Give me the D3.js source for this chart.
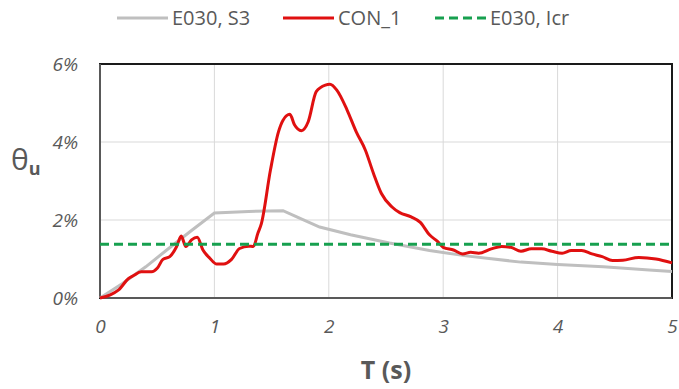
<!DOCTYPE html>
<html>
<head>
<meta charset="utf-8">
<script src="https://cdn.jsdelivr.net/npm/d3@7"></script>
<style>
  body { margin: 0; background: #fff; }
  svg { display: block; font-family: "Open Sans", "Noto Sans", sans-serif; }
</style>
</head>
<body>
<script>
// data (T in s, drift in %)
const seriesNames = ["E030, S3", "CON_1", "E030, Icr"];
const xTicks = [0, 1, 2, 3, 4, 5];
const yTicks = [0, 2, 4, 6];

const grayT = [0, 0.2, 0.4, 0.6, 0.8, 1.0, 1.3, 1.6, 1.72, 1.92, 2.19, 2.53, 2.88, 3.2, 3.68, 4.0, 4.4, 4.8, 5.0];
const grayV = [0, 0.38, 0.8, 1.27, 1.73, 2.18, 2.22, 2.24, 2.08, 1.82, 1.62, 1.41, 1.22, 1.08, 0.92, 0.86, 0.8, 0.72, 0.68];

const conT = [0, 0.09, 0.16, 0.25, 0.29, 0.36, 0.45, 0.50, 0.55, 0.61, 0.67, 0.71, 0.75, 0.80, 0.85, 0.90, 0.96, 1.02, 1.08, 1.15, 1.22, 1.30, 1.34, 1.38, 1.41, 1.49, 1.56, 1.60, 1.66, 1.70, 1.76, 1.82, 1.89, 1.97, 2.01, 2.07, 2.16, 2.24, 2.32, 2.39, 2.46, 2.55, 2.62, 2.72, 2.80, 2.88, 2.95, 3.00, 3.09, 3.17, 3.24, 3.31, 3.42, 3.51, 3.59, 3.68, 3.77, 3.86, 3.95, 4.04, 4.12, 4.21, 4.30, 4.39, 4.48, 4.57, 4.71, 4.86, 5.0];
const conV = [0, 0.08, 0.2, 0.5, 0.57, 0.67, 0.67, 0.76, 0.99, 1.06, 1.32, 1.59, 1.32, 1.49, 1.56, 1.23, 1.02, 0.87, 0.87, 0.99, 1.27, 1.33, 1.32, 1.66, 1.9, 3.28, 4.26, 4.56, 4.71, 4.44, 4.29, 4.52, 5.29, 5.46, 5.48, 5.33, 4.82, 4.26, 3.79, 3.2, 2.68, 2.34, 2.19, 2.08, 1.94, 1.62, 1.45, 1.3, 1.23, 1.13, 1.17, 1.15, 1.26, 1.32, 1.3, 1.2, 1.26, 1.26, 1.2, 1.15, 1.22, 1.22, 1.13, 1.06, 0.96, 0.97, 1.04, 1.0, 0.9];

const icr = 1.38;

const W = 679, H = 389;
const margin = { top: 64, right: 7, bottom: 91, left: 100 };

const svg = d3.select("body").append("svg").attr("width", W).attr("height", H);

const x = d3.scaleLinear().domain([0, 5]).range([margin.left, W - margin.right]);
const y = d3.scaleLinear().domain([0, 6]).range([H - margin.bottom, margin.top]);

// grid
svg.append("g").selectAll("line").data(xTicks.slice(1, -1)).join("line")
  .attr("x1", d => x(d)).attr("x2", d => x(d))
  .attr("y1", y(0)).attr("y2", y(6))
  .attr("stroke", "#d9d9d9").attr("stroke-width", 1);
svg.append("g").selectAll("line").data(yTicks.slice(1, -1)).join("line")
  .attr("x1", x(0)).attr("x2", x(5))
  .attr("y1", d => y(d)).attr("y2", d => y(d))
  .attr("stroke", "#d9d9d9").attr("stroke-width", 1);

// axes (labels only)
const xAxis = svg.append("g").attr("transform", `translate(0,${y(0)})`)
  .call(d3.axisBottom(x).tickValues(xTicks).tickSize(0).tickPadding(22).tickFormat(d3.format("d")));
const yAxis = svg.append("g").attr("transform", `translate(${x(0)},0)`)
  .call(d3.axisLeft(y).tickValues(yTicks).tickSize(0).tickPadding(22).tickFormat(d => d + "%"));
[xAxis, yAxis].forEach(a => {
  a.select(".domain").remove();
  a.selectAll("text").attr("font-size", 19).attr("font-style", "italic")
    .attr("fill", "#595959").attr("font-family", "'Open Sans', sans-serif");
});

// frame
svg.append("rect")
  .attr("x", x(0)).attr("y", y(6))
  .attr("width", x(5) - x(0)).attr("height", y(0) - y(6))
  .attr("fill", "none").attr("stroke", "#1a1a1a").attr("stroke-width", 2);
svg.append("line").attr("x1", x(0)).attr("x2", x(0)).attr("y1", y(6)).attr("y2", y(0))
  .attr("stroke", "#595959").attr("stroke-width", 2);
svg.append("line").attr("x1", x(0)).attr("x2", x(5)).attr("y1", y(0)).attr("y2", y(0))
  .attr("stroke", "#595959").attr("stroke-width", 2);

const line = d3.line().x(d => x(d[0])).y(d => y(d[1]));

svg.append("path").datum(grayT.map((t, i) => [t, grayV[i]]))
  .attr("d", line).attr("fill", "none").attr("stroke", "#bfbfbf").attr("stroke-width", 3);

svg.append("path").datum(conT.map((t, i) => [t, conV[i]]))
  .attr("d", d3.line().curve(d3.curveMonotoneX).x(d => x(d[0])).y(d => y(d[1])))
  .attr("fill", "none").attr("stroke", "#e01010").attr("stroke-width", 3)
  .attr("stroke-linejoin", "round");

svg.append("line").attr("x1", x(0)).attr("x2", x(5))
  .attr("y1", y(icr)).attr("y2", y(icr))
  .attr("stroke", "#17a04f").attr("stroke-width", 3).attr("stroke-dasharray", "9,5");

// legend
const legendX = [117, 283, 435];
const legendStyle = [
  { c: "#bfbfbf", dash: null },
  { c: "#e01010", dash: null },
  { c: "#17a04f", dash: "9,5" }
];
const lg = svg.append("g");
seriesNames.forEach((name, i) => {
  lg.append("line").attr("x1", legendX[i]).attr("x2", legendX[i] + 51)
    .attr("y1", 18).attr("y2", 18)
    .attr("stroke", legendStyle[i].c).attr("stroke-width", 3)
    .attr("stroke-dasharray", legendStyle[i].dash);
  lg.append("text").attr("x", legendX[i] + 55).attr("y", 25)
    .attr("font-size", 20).attr("fill", "#595959").text(name);
});

// axis titles
svg.append("text").attr("x", (x(0) + x(5)) / 2).attr("y", 379)
  .attr("text-anchor", "middle").attr("font-size", 25).attr("font-weight", "bold")
  .attr("fill", "#595959").text("T (s)");

const yt = svg.append("text").attr("x", 11).attr("y", 170)
  .attr("font-size", 30).attr("fill", "#595959");
yt.append("tspan").text("θ");
yt.append("tspan").attr("font-size", 18).attr("font-weight", "bold").attr("dy", 5).text("u");
</script>
</body>
</html>
